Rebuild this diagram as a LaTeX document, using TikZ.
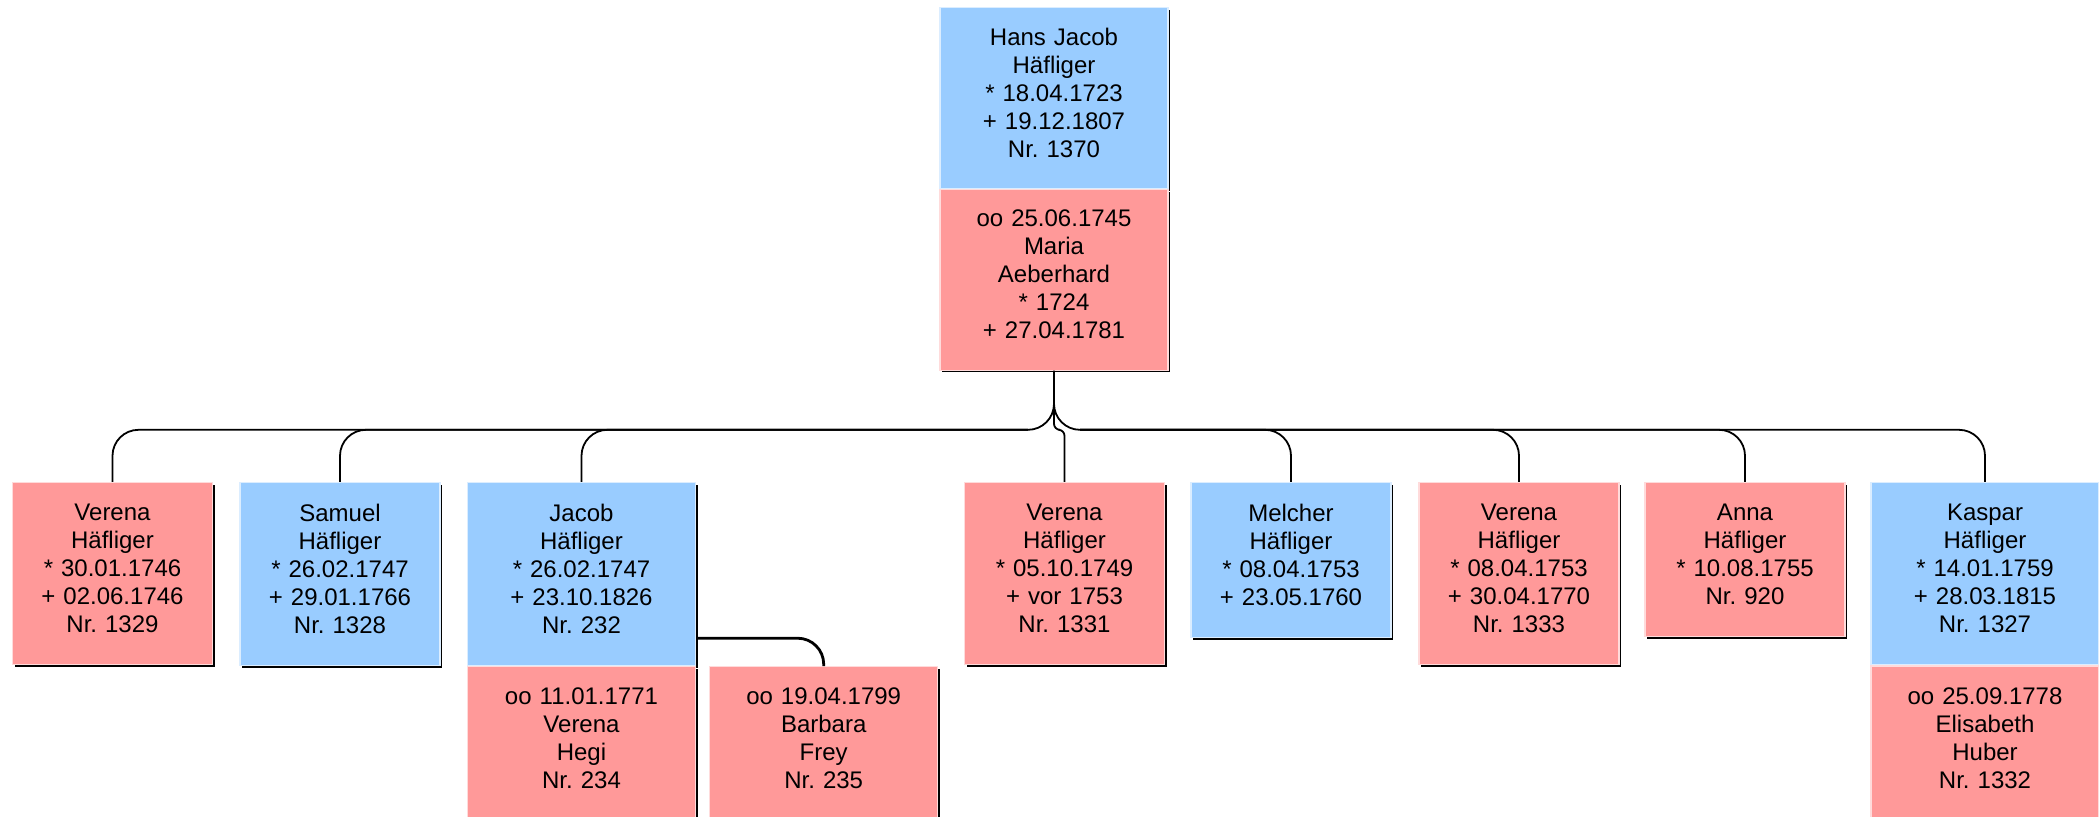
\documentclass[tikz,border=0pt]{standalone}
\usepackage{fontspec}
\setmainfont{Liberation Sans}
\usepackage{xcolor}
\usepackage{tikz}
\usetikzlibrary{positioning, shadows}

\definecolor{manblue}{HTML}{99CCFF}
\definecolor{womanred}{HTML}{FF9999}
\newcommand{\boxgap}{\endgraf\vspace*{5.3pt}}

\begin{document}
\begin{tikzpicture}[
  x=0.5pt, y=-0.5pt,
  box/.style={align=center, text width=100pt, inner xsep=0pt, inner ysep=10.7pt,
    line width=0.6pt, font=\fontsize{12}{14}\selectfont\frenchspacing,
    drop shadow={shadow xshift=1pt, shadow yshift=-1pt, fill=black, opacity=1},
    execute at end node=\boxgap},
  wide/.style={text width=114pt},
  root/.style={inner ysep=10.2pt},
  man/.style={box, fill=manblue, draw=manblue!35!white},
  woman/.style={box, fill=womanred, draw=womanred!35!white},
  link/.style={line width=0.9pt, rounded corners=13pt},
  marriage/.style={line width=1.4pt, rounded corners=13pt}
]
\useasboundingbox (0,0) rectangle (2099,817);

% Nodes
\node[man, wide, root, anchor=north] (hans) at (1054,7) {Hans Jacob\\Häfliger\\{}* 18.04.1723\\+ 19.12.1807\\Nr. 1370};
\node[woman, wide, root, below=0pt of hans] (hansw) {oo 25.06.1745\\Maria\\Aeberhard\\{}* 1724\\+ 27.04.1781};

\node[woman, anchor=north] (ver1) at (112.5,482) {Verena\\Häfliger\\{}* 30.01.1746\\+ 02.06.1746\\Nr. 1329};
\node[man, anchor=north] (sam) at (340,482) {Samuel\\Häfliger\\{}* 26.02.1747\\+ 29.01.1766\\Nr. 1328};
\node[man, wide, anchor=north] (jac) at (581.5,482) {Jacob\\Häfliger\\{}* 26.02.1747\\+ 23.10.1826\\Nr. 232};
\node[woman, wide, below=0pt of jac] (jacw1) {oo 11.01.1771\\Verena\\Hegi\\Nr. 234};
\node[woman, wide, right=6.5pt of jacw1] (jacw2) {oo 19.04.1799\\Barbara\\Frey\\Nr. 235};
\node[woman, anchor=north] (ver4) at (1064.5,482) {Verena\\Häfliger\\{}* 05.10.1749\\+ vor 1753\\Nr. 1331};
\node[man, anchor=north] (mel) at (1291,482) {Melcher\\Häfliger\\{}* 08.04.1753\\+ 23.05.1760};
\node[woman, anchor=north] (ver5) at (1519,482) {Verena\\Häfliger\\{}* 08.04.1753\\+ 30.04.1770\\Nr. 1333};
\node[woman, anchor=north] (anna) at (1745,482) {Anna\\Häfliger\\{}* 10.08.1755\\Nr. 920};
\node[man, wide, anchor=north] (kas) at (1985,482) {Kaspar\\Häfliger\\{}* 14.01.1759\\+ 28.03.1815\\Nr. 1327};
\node[woman, wide, below=0pt of kas] (kasw) {oo 25.09.1778\\Elisabeth\\Huber\\Nr. 1332};

% Lines
\coordinate[below=29.5pt of hansw] (fork);
\coordinate[left=13pt of fork] (forkL);
\coordinate[right=13pt of fork] (forkR);

\draw[link] (hansw.south) |- (ver1.north |- fork) -- (ver1.north);
\draw[link] (hansw.south) |- (kas.north |- fork) -- (kas.north);
\draw[link, rounded corners=3pt] (hansw.south) |- (ver4.north |- fork) -- (ver4.north);
\draw[link] (forkL) -| (sam.north);
\draw[link] (forkL) -| (jac.north);
\draw[link] (forkR) -| (mel.north);
\draw[link] (forkR) -| (ver5.north);
\draw[link] (forkR) -| (anna.north);
\draw[marriage] ([yshift=14pt]jac.south east) -| (jacw2.north);

\end{tikzpicture}
\end{document}
